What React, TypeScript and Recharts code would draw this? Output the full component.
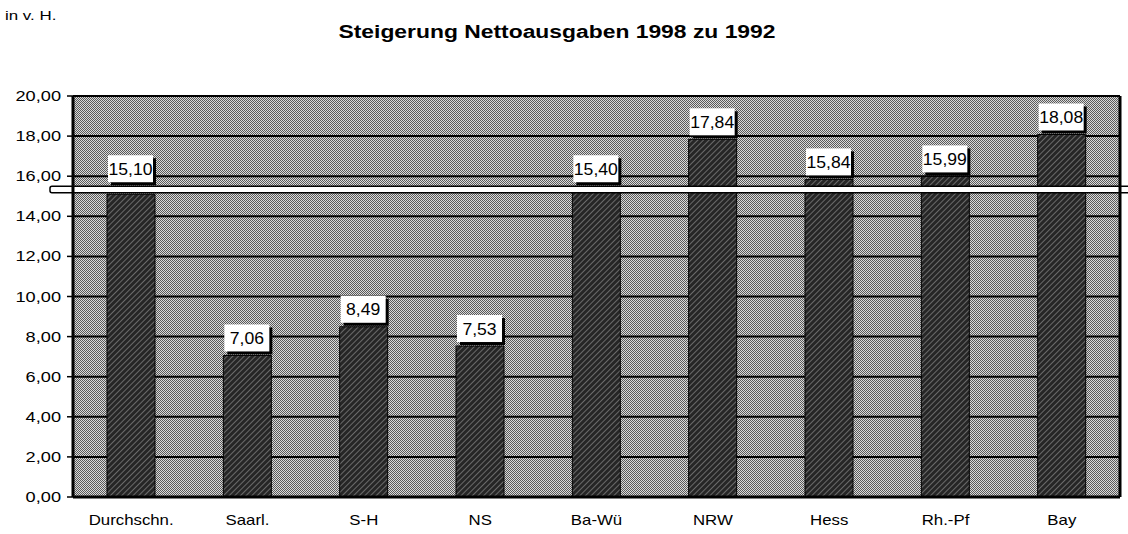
import * as React from 'react';
import {
  BarChart, Bar, XAxis, YAxis, CartesianGrid, ReferenceArea, LabelList,
} from 'recharts';

const categories = ['Durchschn.', 'Saarl.', 'S-H', 'NS', 'Ba-Wü', 'NRW', 'Hess', 'Rh.-Pf', 'Bay'];
const values = [15.10, 7.06, 8.49, 7.53, 15.40, 17.84, 15.84, 15.99, 18.08];
const yTicks = [0, 2, 4, 6, 8, 10, 12, 14, 16, 18, 20];
// axis break band (value range hidden by the white double line)
const breakLow = 15.17;
const breakHigh = 15.5;

const FONT = '"Liberation Sans", Arial, sans-serif';
const STRETCH = 1.3; // the scanned original is wider than it is tall
const fmt = (v: number) => v.toFixed(2).replace('.', ',');

const data = categories.map((name, i) => ({ name, value: values[i] }));
const boundaryTicks = [...categories.map((_, i) => i), categories.length];

function ValueLabel(props: any) {
  const x = Number(props.x);
  const y = Number(props.y);
  const width = Number(props.width);
  const height = Number(props.height);
  const value = Number(props.value);
  const pxPerUnit = height / value;
  const breakTop = y + height - breakHigh * pxPerUnit;
  // bars ending just under or inside the break get their label above it
  const nearBreak = value > breakLow - 0.4 && value < breakHigh;
  const bottom = (nearBreak ? breakTop : y) - 4;
  const h = 27;
  const bx = x + 1;
  const bw = width - 3;
  return (
    <g>
      <rect x={bx + 3} y={bottom - h + 3} width={bw} height={h} fill="#000" />
      <rect x={bx} y={bottom - h} width={bw} height={h} fill="#fff" />
      <text
        transform={`translate(${bx + bw / 2},${bottom - h / 2 + 6}) scale(1.1,1)`}
        textAnchor="middle"
        fontFamily={FONT}
        fontSize={16}
        fill="#000"
      >
        {fmt(value)}
      </text>
    </g>
  );
}

function BreakBand(props: any) {
  const { x, y, width, height } = props;
  return (
    <rect
      x={x - 23}
      y={y}
      width={width + 40}
      height={height}
      fill="#fff"
      stroke="#000"
      strokeWidth={1.5}
      rx={2}
    />
  );
}

function YTick(props: any) {
  const { x, y, payload } = props;
  return (
    <text
      transform={`translate(${x},${y + 5}) scale(${STRETCH},1)`}
      textAnchor="end"
      fontFamily={FONT}
      fontSize={14}
      fill="#000"
    >
      {fmt(payload.value)}
    </text>
  );
}

function XTick(props: any) {
  const { x, y, payload } = props;
  return (
    <text
      transform={`translate(${x},${y + 14}) scale(1.2,1)`}
      textAnchor="middle"
      fontFamily={FONT}
      fontSize={14}
      fill="#000"
    >
      {payload.value}
    </text>
  );
}

export default function App() {
  return (
    <div style={{ position: 'absolute', left: 0, top: 0, width: 1128, height: 534, background: '#fff', fontFamily: FONT }}>
      <div style={{ position: 'absolute', left: 5, top: 8, fontSize: 13, color: '#000', transform: `scaleX(${STRETCH})`, transformOrigin: 'left' }}>
        in v. H.
      </div>
      <div style={{ position: 'absolute', left: -7, width: 1128, top: 22, textAlign: 'center', fontSize: 18, fontWeight: 'bold', color: '#000', transform: 'scaleX(1.27)' }}>
        Steigerung Nettoausgaben 1998 zu 1992
      </div>
      <div style={{ position: 'absolute', left: 0, top: 0 }}>
        <BarChart width={1128} height={534} data={data} margin={{ top: 96, right: 0, bottom: 7, left: 0 }} barSize={48}>
          <defs>
            <pattern id="bgPat" width="2" height="2" patternUnits="userSpaceOnUse">
              <rect width="2" height="2" fill="#dadada" />
              <rect width="1" height="1" fill="#5a5a5a" />
              <rect x="1" y="1" width="1" height="1" fill="#5a5a5a" />
            </pattern>
            <pattern id="barPat" width="4" height="4" patternUnits="userSpaceOnUse" patternTransform="rotate(45)">
              <rect width="4" height="4" fill="#262626" />
              <rect width="1" height="4" fill="#6a6a6a" />
            </pattern>
          </defs>
          <CartesianGrid
            vertical={false}
            stroke="#000"
            strokeWidth={2}
            fill="url(#bgPat)"
            fillOpacity={1}
          />
          <XAxis
            xAxisId="bounds"
            type="number"
            domain={[0, categories.length]}
            ticks={boundaryTicks}
            tickFormatter={() => ''}
            height={0}
            axisLine={false}
            tickLine={{ stroke: '#000', strokeWidth: 1.5 }}
            tickSize={5}
          />
          <XAxis
            dataKey="name"
            height={30}
            axisLine={{ stroke: '#000', strokeWidth: 3 }}
            tickLine={false}
            tickMargin={8}
            tick={XTick}
            interval={0}
          />
          <YAxis
            domain={[0, 20]}
            ticks={yTicks}
            width={73}
            axisLine={{ stroke: '#000', strokeWidth: 3 }}
            tickLine={{ stroke: '#000', strokeWidth: 1.5 }}
            tickSize={6}
            tickMargin={6}
            tick={YTick}
          />
          <YAxis
            yAxisId="r"
            orientation="right"
            domain={[0, 20]}
            width={8}
            tick={false}
            tickLine={false}
            axisLine={{ stroke: '#000', strokeWidth: 3 }}
          />
          <Bar dataKey="value" fill="url(#barPat)" stroke="#000" strokeWidth={1} isAnimationActive={false}>
            <LabelList dataKey="value" content={ValueLabel} />
          </Bar>
          <ReferenceArea y1={breakLow} y2={breakHigh} shape={BreakBand} ifOverflow="visible" zIndex={350} />
        </BarChart>
      </div>
    </div>
  );
}
